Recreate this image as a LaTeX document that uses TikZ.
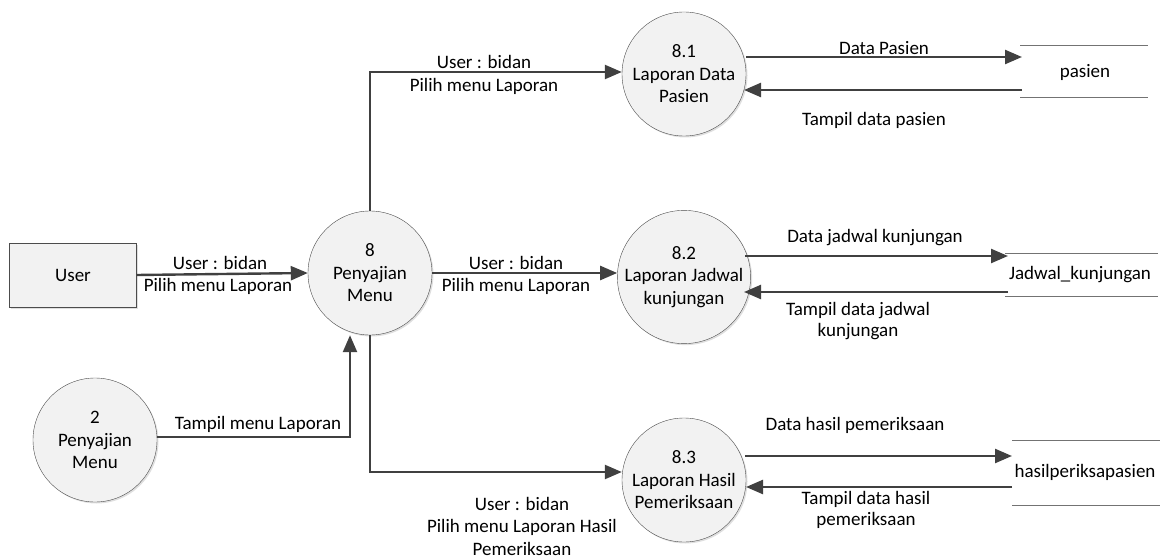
\documentclass[tikz,border=0pt]{standalone}
\usepackage{fontspec}
\setmainfont{Carlito}
\usetikzlibrary{arrows.meta,shadows}
\begin{document}
\begin{tikzpicture}[x=1pt,y=-1pt,
  proc/.style={circle,draw=black!70,fill=black!5,minimum size=124pt,inner sep=0pt,align=center,font=\fontsize{19}{22.5}\selectfont,drop shadow={opacity=0.25,shadow xshift=1.5pt,shadow yshift=-1.5pt}},
  ent/.style={rectangle,draw=black!70,fill=black!5,minimum width=127pt,minimum height=64pt,font=\fontsize{19}{22.5}\selectfont,drop shadow={opacity=0.25,shadow xshift=1.5pt,shadow yshift=-1.5pt}},
  lbl/.style={font=\fontsize{19}{22.5}\selectfont,align=center,inner sep=0pt},
  flow/.style={draw=black!75,line width=2.4pt,-{Triangle[length=17pt,width=14pt]}},
  storeline/.style={draw=black!55,line width=0.9pt}]
\useasboundingbox (0,0) rectangle (1168,559);
% nodes
\node[ent] (user) at (73,275) {User};
\node[proc] (p8) at (370,273) {8\\Penyajian\\Menu};
\node[proc] (p2) at (95,440) {2\\Penyajian\\Menu};
\node[proc] (p81) at (684,74) {8.1\\Laporan Data\\Pasien};
\node[proc] (p82) at (684,277) {8.2\\Laporan Jadwal\\kunjungan};
\node[proc] (p83) at (684,480) {8.3\\Laporan Hasil\\Pemeriksaan};
% data stores
\coordinate (dsA) at (1022,57);
\coordinate (dsA2) at (1022,90);
\draw[storeline] (1020,45) -- (1148,45);
\draw[storeline] (1020,97) -- (1148,97);
\node[lbl] (sPasien) at (1085,72) {pasien};
\coordinate (dsB) at (1008,256);
\coordinate (dsB2) at (1008,292);
\draw[storeline] (1005,253) -- (1158,253);
\draw[storeline] (1005,296) -- (1158,296);
\node[lbl] (sJadwal) at (1080,275) {Jadwal\_kunjungan};
\coordinate (dsC) at (1012,456);
\coordinate (dsC2) at (1012,487);
\draw[storeline] (1012,440) -- (1160,440);
\draw[storeline] (1012,505) -- (1160,505);
\node[lbl] (sHasil) at (1085,472) {hasilperiksapasien};
% flows
\draw[flow] (user.east) -- (p8.west);
\node[lbl] at (220,263) {User : bidan};
\node[lbl] at (218,286) {Pilih menu Laporan};
\draw[flow] (p2.east |- 0,437) -- (350,437) -- (350,0 |- p8.south);
\node[lbl] at (258,424) {Tampil menu Laporan};
\draw[flow] (p8.north) -- (370,72) -- (p81.west |- 0,72);
\node[lbl] at (484,62) {User : bidan};
\node[lbl] at (484,86) {Pilih menu Laporan};
\draw[flow] (p8.east) -- (p82.west |- p8.east);
\node[lbl] at (516,263) {User : bidan};
\node[lbl] at (516,286) {Pilih menu Laporan};
\draw[flow] (p8.south) -- (370,472) -- (p83.west |- 0,472);
\node[lbl] at (522,504) {User : bidan};
\node[lbl] at (522,527) {Pilih menu Laporan Hasil};
\node[lbl] at (522,549) {Pemeriksaan};
% store flows
\draw[flow] (746,57) -- (dsA);
\node[lbl] at (884,48) {Data Pasien};
\draw[flow] (dsA2) -- (744,90);
\node[lbl] at (874,120) {Tampil data pasien};
\draw[flow] (745,256) -- (dsB);
\node[lbl] at (875,238) {Data jadwal kunjungan};
\draw[flow] (dsB2) -- (744,292);
\node[lbl] at (858,311) {Tampil data jadwal};
\node[lbl] at (858,332) {kunjungan};
\draw[flow] (745,456) -- (dsC);
\node[lbl] at (855,425) {Data hasil pemeriksaan};
\draw[flow] (dsC2) -- (746,487);
\node[lbl] at (866,499) {Tampil data hasil};
\node[lbl] at (866,520) {pemeriksaan};
\end{tikzpicture}
\end{document}
